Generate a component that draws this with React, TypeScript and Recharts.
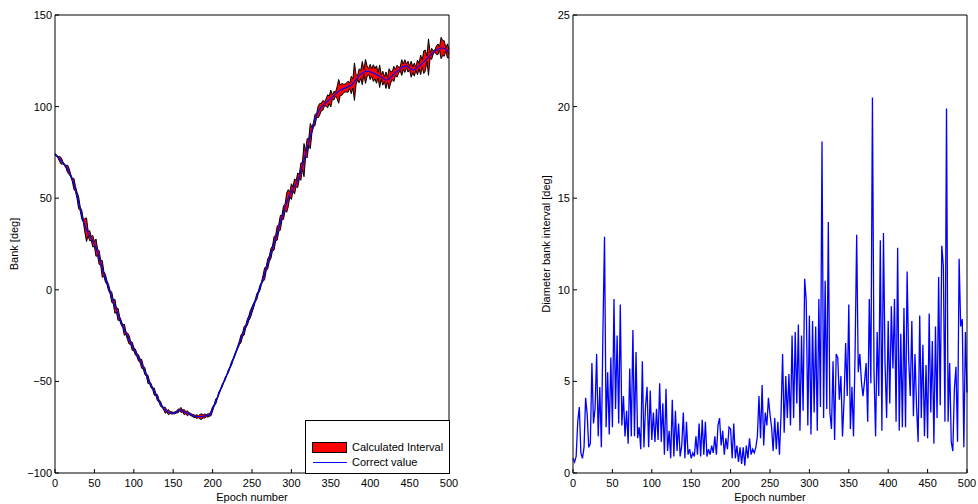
import React from 'react';
import { ComposedChart, LineChart, Line, Area, XAxis, YAxis } from 'recharts';

const FONT = '"Liberation Sans", Arial, Helvetica, sans-serif';
const EPOCH_STEP = 2; // one value every 2 epochs, epoch 0..500

// correct bank value [deg]
const correctBank = [
  74.0, 73.2, 72.3, 71.3, 70.3, 69.3, 68.2, 67.2, 66.0, 64.5,
  62.3, 60.0, 57.8, 55.0, 51.5, 47.5, 44.2, 41.0, 37.5, 35.0,
  32.8, 30.8, 29.5, 28.0, 26.5, 24.9, 23.0, 20.5, 17.6, 14.8,
  11.4, 8.7, 6.3, 3.8, 1.2, -1.4, -4.0, -6.6, -9.0, -11.1,
  -13.4, -15.6, -17.9, -20.0, -21.8, -23.6, -25.4, -27.2, -29.0, -30.8,
  -32.4, -34.0, -35.6, -37.2, -38.8, -40.4, -42.3, -44.4, -46.6, -48.9,
  -50.6, -52.4, -54.0, -55.6, -57.2, -58.9, -60.6, -62.3, -63.7, -64.9,
  -65.8, -66.4, -66.8, -67.0, -67.2, -67.3, -67.2, -66.8, -66.2, -65.5,
  -65.6, -66.2, -66.8, -67.1, -67.4, -67.6, -68.0, -68.5, -68.9, -69.1,
  -69.2, -69.3, -69.3, -69.2, -69.1, -68.9, -68.7, -68.6, -68.4, -67.5,
  -65.0, -63.0, -61.0, -59.0, -56.5, -54.5, -52.5, -50.5, -48.5, -46.5,
  -44.5, -42.4, -40.2, -38.0, -35.8, -33.5, -31.3, -29.0, -26.8, -24.6,
  -22.4, -20.1, -17.8, -15.5, -13.2, -10.9, -8.6, -6.2, -3.8, -1.4,
  1.0, 3.6, 6.2, 8.8, 11.5, 14.2, 17.0, 19.8, 22.6, 25.4,
  28.2, 31.0, 33.8, 36.6, 39.4, 42.2, 45.0, 47.6, 50.0, 52.0,
  53.6, 55.0, 56.4, 58.0, 59.8, 61.8, 64.5, 67.6, 70.8, 74.0,
  77.3, 80.6, 83.9, 87.0, 90.0, 92.8, 95.2, 97.1, 98.6, 99.8,
  100.7, 101.5, 102.2, 102.9, 103.7, 104.4, 105.2, 106.0, 106.8, 107.6,
  108.3, 108.9, 109.4, 109.8, 110.1, 110.5, 110.9, 111.3, 111.8, 112.6,
  113.6, 114.7, 115.8, 116.8, 117.6, 118.3, 118.8, 119.2, 119.3, 119.2,
  118.9, 118.6, 118.3, 117.9, 117.5, 117.1, 116.6, 116.1, 115.5, 114.9,
  114.4, 114.6, 115.2, 116.0, 116.9, 117.8, 118.6, 119.3, 119.9, 120.6,
  121.3, 121.8, 122.1, 122.2, 121.8, 121.0, 120.4, 120.1, 120.2, 120.7,
  121.4, 122.1, 122.8, 123.5, 124.3, 125.2, 126.1, 127.0, 127.9, 128.8,
  129.6, 130.3, 130.8, 131.3, 131.7, 132.0, 132.0, 131.7, 131.2, 130.4,
  128.9,
];

// diameter of the calculated bank interval [deg]
const intervalDiameter = [
  0.8, 0.6, 0.9, 2.8, 3.6, 1.1, 0.8, 1.4, 4.1, 3.2,
  1.4, 1.6, 6.0, 2.7, 3.5, 6.5, 2.0, 4.7, 1.4, 7.8,
  12.9, 2.5, 5.5, 2.1, 6.3, 2.5, 9.5, 3.5, 7.5, 2.7,
  9.2, 2.6, 4.2, 2.0, 3.4, 1.6, 5.7, 2.0, 7.8, 2.0,
  6.6, 1.9, 2.5, 1.3, 6.1, 1.4, 3.6, 4.7, 1.4, 4.5,
  1.8, 3.3, 1.7, 3.5, 1.8, 4.9, 1.7, 3.8, 1.0, 4.6,
  1.2, 2.3, 0.8, 4.0, 0.9, 3.4, 1.2, 2.7, 0.9, 1.5,
  3.3, 0.8, 2.8, 1.0, 1.3, 0.8, 1.1, 0.9, 2.0, 1.0,
  2.7, 0.9, 2.9, 1.0, 2.8, 0.9, 1.3, 1.0, 1.5, 1.1,
  2.0, 1.0, 2.6, 3.0, 1.5, 2.3, 1.0, 1.9, 1.3, 2.5,
  2.4, 0.8, 2.7, 0.8, 1.5, 0.6, 1.4, 0.5, 1.4, 0.4,
  1.5, 0.8, 1.9, 1.0, 1.3, 1.1, 1.4, 2.0, 4.2, 1.9,
  4.8, 1.5, 3.3, 2.6, 4.1, 3.2, 2.5, 1.2, 3.0, 1.3,
  2.8, 1.0, 3.2, 6.5, 2.2, 5.3, 3.0, 5.4, 2.6, 7.5,
  3.0, 7.7, 3.8, 8.1, 2.3, 7.5, 3.4, 10.6, 9.4, 2.6,
  8.6, 2.1, 8.3, 3.3, 8.0, 2.3, 9.5, 3.6, 18.1, 3.0,
  10.5, 3.5, 13.7, 3.3, 2.4, 6.1, 1.8, 6.5, 6.3, 4.0,
  5.3, 2.0, 4.0, 7.1, 4.2, 9.2, 2.4, 4.7, 2.0, 6.6,
  13.0, 5.5, 6.5, 5.0, 4.2, 5.0, 6.0, 2.8, 9.5, 4.9,
  20.5, 5.5, 2.0, 7.7, 4.2, 12.7, 2.3, 13.1, 6.0, 3.0,
  8.3, 3.8, 9.1, 5.7, 9.5, 2.8, 12.3, 2.3, 7.6, 2.5,
  9.0, 2.5, 11.0, 6.2, 4.2, 8.3, 3.1, 6.5, 3.6, 1.7,
  8.6, 3.0, 7.0, 2.0, 5.9, 1.9, 8.7, 3.3, 7.2, 1.6,
  8.0, 3.0, 10.7, 3.7, 12.4, 11.3, 2.8, 19.9, 2.8, 6.0,
  1.7, 1.2, 4.6, 5.8, 1.7, 11.7, 8.0, 8.4, 1.4, 7.7,
  4.4,
];

const epochTicks = [0, 50, 100, 150, 200, 250, 300, 350, 400, 450, 500];
const bankTicks = [-100, -50, 0, 50, 100, 150];
const diameterTicks = [0, 5, 10, 15, 20, 25];

const bankData = correctBank.map((v, i) => {
  const half = intervalDiameter[i] / 2;
  return { epoch: i * EPOCH_STEP, correct: v, band: [v - half, v + half] };
});
const diameterData = intervalDiameter.map((d, i) => ({ epoch: i * EPOCH_STEP, diameter: d }));

const tickStyle = { fontSize: 11, fill: '#000', fontFamily: FONT };
const minus = (v: number) => String(v).replace('-', '\u2212');
const margin = { top: 14, right: 10, bottom: 11, left: 0 };

function AxisTitle({ x, y, text, vertical }: { x: number; y: number; text: string; vertical?: boolean }) {
  return (
    <div
      style={{
        position: 'absolute',
        left: x,
        top: y,
        transform: `translate(-50%, -50%)${vertical ? ' rotate(-90deg)' : ''}`,
        whiteSpace: 'nowrap',
        fontSize: 11,
        fontFamily: FONT,
        color: '#000',
        lineHeight: 1,
      }}
    >
      {text}
    </div>
  );
}

export default function App() {
  return (
    <div style={{ position: 'absolute', left: 0, top: 0, width: 978, height: 504, background: '#fff' }}>
      {/* left: bank with calculated interval */}
      <div style={{ position: 'absolute', left: 0, top: 0 }}>
        <ComposedChart width={460} height={504} data={bankData} margin={margin}>
          <XAxis xAxisId="b" dataKey="epoch" type="number" domain={[0, 500]} ticks={epochTicks}
            height={20} tickSize={-4} tickMargin={10} tick={tickStyle}
            axisLine={{ stroke: '#000' }} tickLine={{ stroke: '#000' }} />
          <XAxis xAxisId="t" orientation="top" type="number" domain={[0, 500]} ticks={epochTicks}
            height={1} tickSize={-4} tick={false} axisLine={{ stroke: '#000' }} tickLine={{ stroke: '#000' }} />
          <YAxis yAxisId="l" type="number" domain={[-100, 150]} ticks={bankTicks} width={55}
            tickSize={-4} tickMargin={7} tick={tickStyle} tickFormatter={minus}
            axisLine={{ stroke: '#000' }} tickLine={{ stroke: '#000' }} />
          <YAxis yAxisId="r" orientation="right" type="number" domain={[-100, 150]} ticks={bankTicks} width={1}
            tickSize={-4} tick={false} axisLine={{ stroke: '#000' }} tickLine={{ stroke: '#000' }} />
          <Area xAxisId="b" yAxisId="l" type="linear" dataKey="band" stroke="#000" strokeWidth={1}
            fill="#ff0000" fillOpacity={1} isAnimationActive={false} />
          <Line xAxisId="b" yAxisId="l" type="linear" dataKey="correct" stroke="#0000ff" strokeWidth={1.2}
            dot={false} isAnimationActive={false} />
        </ComposedChart>
        <div
          style={{
            position: 'absolute', left: 305, top: 420, width: 145, height: 54, boxSizing: 'border-box',
            border: '1px solid #000', background: '#fff', fontFamily: FONT, fontSize: 11, color: '#000',
          }}
        >
          <div style={{ position: 'absolute', left: 6, top: 21, width: 35, height: 11, boxSizing: 'border-box', border: '1px solid #000', background: '#ff0000' }} />
          <div style={{ position: 'absolute', left: 46, top: 20, lineHeight: '13px', whiteSpace: 'nowrap' }}>Calculated Interval</div>
          <div style={{ position: 'absolute', left: 7, top: 41, width: 34, height: 1, background: '#0000ff' }} />
          <div style={{ position: 'absolute', left: 46, top: 35, lineHeight: '13px', whiteSpace: 'nowrap' }}>Correct value</div>
        </div>
        <AxisTitle x={14} y={244} text="Bank [deg]" vertical />
        <AxisTitle x={252} y={497} text="Epoch number" />
      </div>

      {/* right: diameter of the interval */}
      <div style={{ position: 'absolute', left: 518, top: 0 }}>
        <LineChart width={460} height={504} data={diameterData} margin={margin}>
          <XAxis xAxisId="b" dataKey="epoch" type="number" domain={[0, 500]} ticks={epochTicks}
            height={20} tickSize={-4} tickMargin={10} tick={tickStyle}
            axisLine={{ stroke: '#000' }} tickLine={{ stroke: '#000' }} />
          <XAxis xAxisId="t" orientation="top" type="number" domain={[0, 500]} ticks={epochTicks}
            height={1} tickSize={-4} tick={false} axisLine={{ stroke: '#000' }} tickLine={{ stroke: '#000' }} />
          <YAxis yAxisId="l" type="number" domain={[0, 25]} ticks={diameterTicks} width={55}
            tickSize={-4} tickMargin={7} tick={tickStyle}
            axisLine={{ stroke: '#000' }} tickLine={{ stroke: '#000' }} />
          <YAxis yAxisId="r" orientation="right" type="number" domain={[0, 25]} ticks={diameterTicks} width={1}
            tickSize={-4} tick={false} axisLine={{ stroke: '#000' }} tickLine={{ stroke: '#000' }} />
          <Line xAxisId="b" yAxisId="l" type="linear" dataKey="diameter" stroke="#0000ff" strokeWidth={1.3}
            dot={false} isAnimationActive={false} />
        </LineChart>
        <AxisTitle x={28} y={244} text="Diameter bank interval [deg]" vertical />
        <AxisTitle x={252} y={497} text="Epoch number" />
      </div>
    </div>
  );
}
